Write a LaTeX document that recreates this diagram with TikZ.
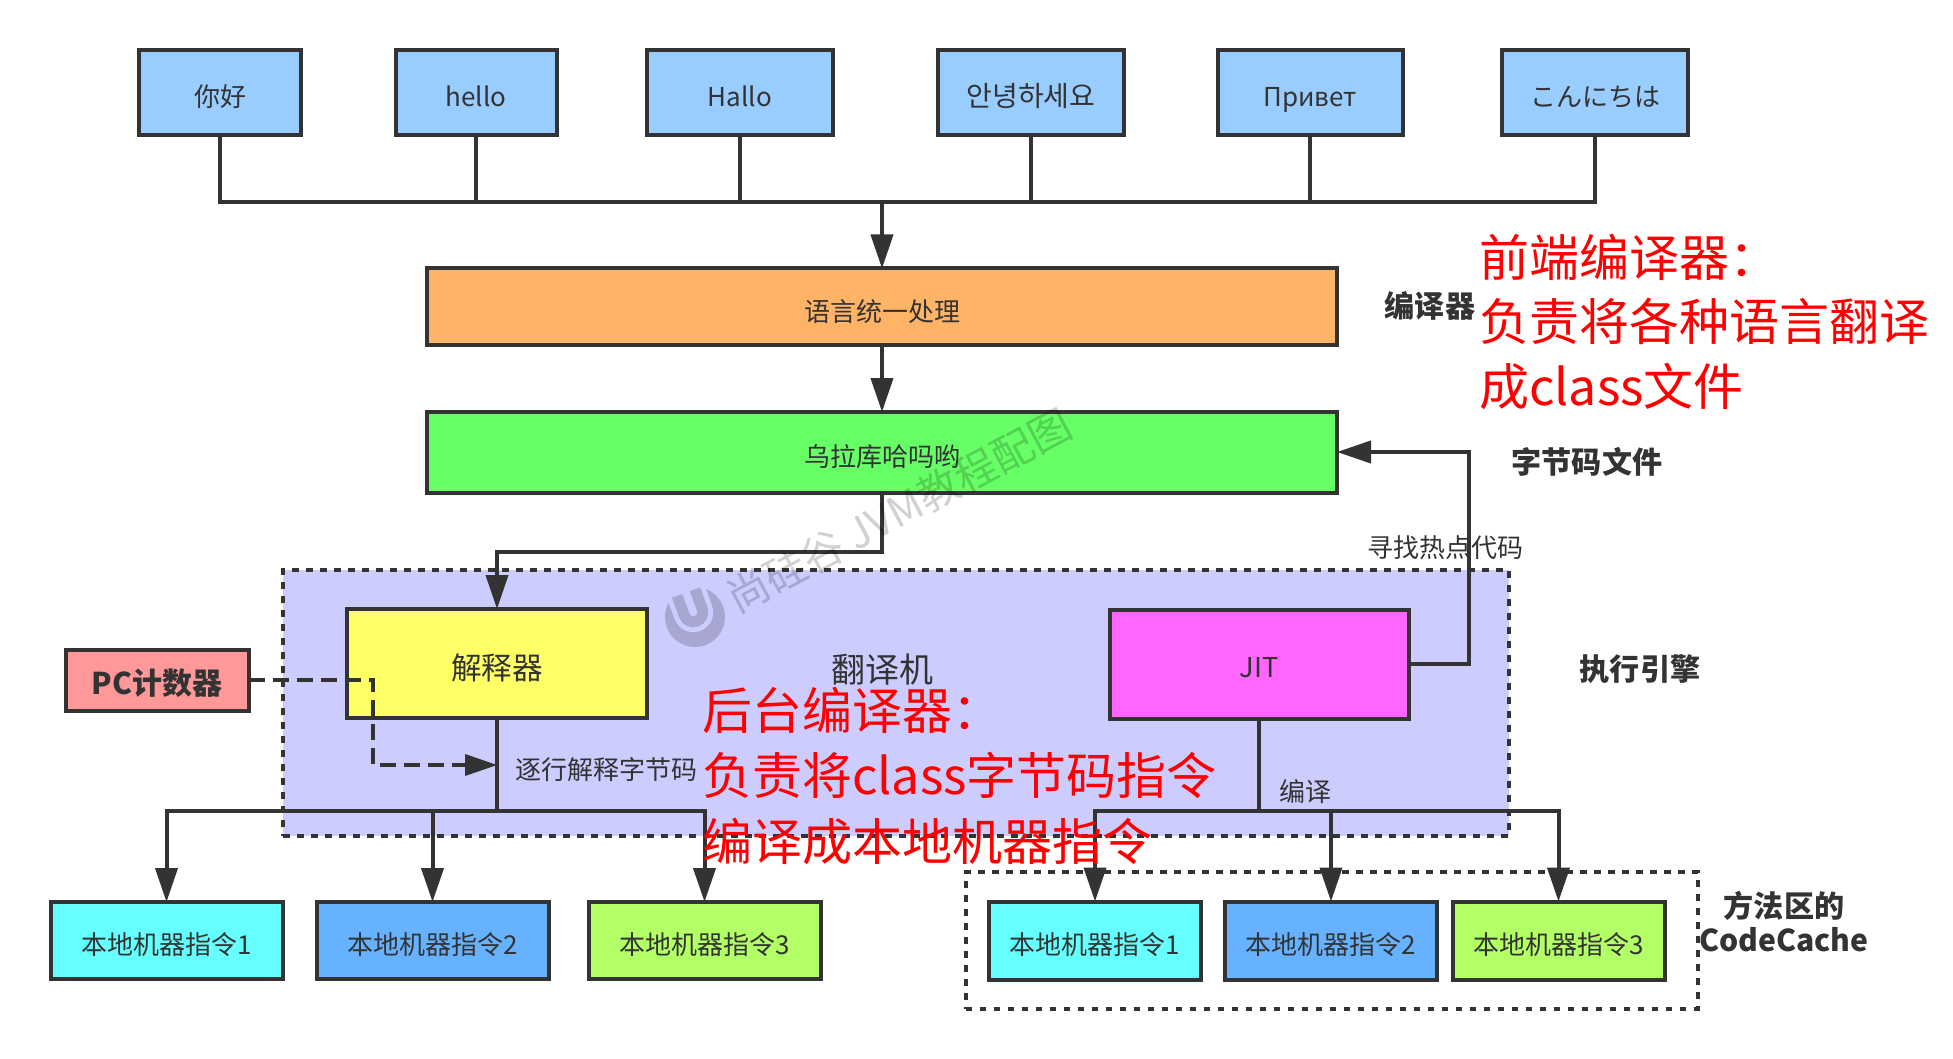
\documentclass[tikz,border=0pt]{standalone}
\usepackage{fontspec}
\setmainfont{Noto Sans CJK SC}
\newfontfamily\krfont{Noto Sans CJK KR}
\usetikzlibrary{arrows.meta}
\definecolor{ink}{HTML}{333333}
\definecolor{cBlue}{HTML}{99CCFF}
\definecolor{cOrange}{HTML}{FFB366}
\definecolor{cGreen}{HTML}{66FF66}
\definecolor{cLav}{HTML}{CCCCFF}
\definecolor{cYellow}{HTML}{FFFF66}
\definecolor{cMag}{HTML}{FF66FF}
\definecolor{cPink}{HTML}{FF9999}
\definecolor{cCyan}{HTML}{66FFFF}
\definecolor{cBlueB}{HTML}{66B2FF}
\definecolor{cLime}{HTML}{B3FF66}
\tikzset{
  wh/.style 2 args={minimum width=#1*.75pt,minimum height=#2*.75pt},
  boxx/.style={draw=ink,line width=3pt,inner sep=0pt,outer sep=0pt,text=ink,text height=21pt,text depth=0pt,font=\fontsize{19.5}{24}\selectfont},
  lab/.style={text=ink,inner sep=0pt,text height=14pt,text depth=0pt,font=\fontsize{19.5}{24}\selectfont},
  blab/.style={text=ink,inner sep=0pt,align=center,font=\fontsize{22.6}{27.5}\selectfont\bfseries},
  redt/.style={text=red,inner sep=0pt,anchor=west,align=left},
  conn/.style={draw=ink,line width=3pt},
  arr/.style={conn,-{Triangle[length=25.5pt,width=16.5pt]}},
  dash conn/.style={draw=ink,line width=3pt,dash pattern=on 12pt off 6pt},
  dotbox/.style={draw=ink,line width=3pt,dash pattern=on 5pt off 5.5pt},
  wm/.style={text=black,opacity=.18,inner sep=0pt,font=\fontsize{31.4}{36}\selectfont}
}
\begin{document}
\begin{tikzpicture}[x=.75pt,y=-.75pt]
\useasboundingbox (0,0) rectangle (1953,1059);
% group areas
\node[dotbox,fill=cLav,wh={1226}{266},inner sep=0pt,outer sep=0pt] (engine) at (896,703) {};
\node[dotbox,wh={732}{137},inner sep=0pt,outer sep=0pt] (cache) at (1331.5,940.5) {};
% top row
\node[boxx,fill=cBlue,wh={162}{85}] (a1) at (220,93) {你好};
\node[boxx,fill=cBlue,wh={161}{85}] (a2) at (476,93) {hello};
\node[boxx,fill=cBlue,wh={186}{85}] (a3) at (740,93) {Hallo};
\node[boxx,fill=cBlue,wh={186}{85}] (a4) at (1031,93) {\fontsize{21}{24}\selectfont\krfont 안녕하세요};
\node[boxx,fill=cBlue,wh={185}{85}] (a5) at (1310,93) {Привет};
\node[boxx,fill=cBlue,wh={186}{85}] (a6) at (1595,93) {こんにちは};
% middle
\node[boxx,fill=cOrange,wh={910}{77}] (lang) at (882,307) {语言统一处理};
\node[boxx,fill=cGreen,wh={910}{81}] (code) at (882,452.5) {乌拉库哈吗哟};
\node[boxx,fill=cYellow,wh={300}{109},font=\fontsize{23}{28}\selectfont,text height=23.4pt] (interp) at (497,663.5) {解释器};
\node[boxx,fill=cMag,wh={299}{109},font=\fontsize{20.5}{25}\selectfont,text height=19.6pt] (jit) at (1259,664.5) {JIT};
\node[boxx,fill=cPink,wh={183}{61},font=\fontsize{22.5}{27}\selectfont\bfseries,text height=21.4pt] (pc) at (157,680) {PC计数器};
% lower row
\node[boxx,fill=cCyan,wh={232}{77}] (l1) at (166.5,940.5) {本地机器指令1};
\node[boxx,fill=cBlueB,wh={232}{77}] (l2) at (432.5,940.5) {本地机器指令2};
\node[boxx,fill=cLime,wh={232}{77}] (l3) at (704.5,940.5) {本地机器指令3};
\node[boxx,fill=cCyan,wh={212}{78}] (r1) at (1095,940.5) {本地机器指令1};
\node[boxx,fill=cBlueB,wh={212}{78}] (r2) at (1331,940.5) {本地机器指令2};
\node[boxx,fill=cLime,wh={212}{78}] (r3) at (1558.5,940.5) {本地机器指令3};
% coordinates
\coordinate (topbus) at (882,202);
\coordinate (turn) at (497,552);
\coordinate (lbus) at (497,811);
\coordinate (rbus) at (1259,811);
\coordinate (hot) at (1469,452);
\coordinate (pcbend) at (373,680);
\coordinate (pcend) at (497,765);
% connectors
\draw[conn] (a1.south) |- (topbus);
\draw[conn] (a2.south) |- (topbus);
\draw[conn] (a3.south) |- (topbus);
\draw[conn] (a6.south) |- (topbus);
\draw[conn] (a4.south) |- (topbus);
\draw[conn] (a5.south) |- (topbus);
\draw[arr] (topbus) -- (lang.north);
\draw[arr] (lang.south) -- (code.north);
\draw[arr] (code.south) |- (turn) -- (interp.north);
\draw[conn] (interp.south) -- (lbus);
\draw[arr] (lbus) -| (l1.north);
\draw[arr] (lbus) -| (l2.north);
\draw[arr] (lbus) -| (l3.north);
\draw[conn] (jit.south) -- (rbus);
\draw[arr] (rbus) -| (r1.north);
\draw[arr] (rbus) -| (r2.north);
\draw[arr] (rbus) -| (r3.north);
\draw[arr] (jit.east |- 0,664) -| (hot) -- (code.east |- hot);
\draw[dash conn] (pc.east) -- (pcbend) |- (pcend);
\fill[ink] (pcend) -- ++(-32,-11) -- ++(0,22) -- cycle;
% labels
\node[lab] (t1) at (606,770) {逐行解释字节码};
\node[lab,font=\fontsize{25.5}{30}\selectfont,text height=18pt] (t2) at (882,670) {翻译机};
\node[lab] (t3) at (1445,548) {寻找热点代码};
\node[lab] (t4) at (1305,792) {编译};
\node[blab] (b1) at (1430,306) {编译器};
\node[blab] (b2) at (1587,462) {字节码文件};
\node[blab] (b3) at (1640,669) {执行引擎};
\node[blab] (b4) at (1784,921.5) {方法区的\\[-2pt]CodeCache};
% watermark
\node[wm,rotate=28] (wmk) at (899,511) {尚硅谷 JVM教程配图};
\begin{scope}[shift={(695,617)},x=.75pt,y=.75pt,rotate=20]
\fill[black,opacity=.18] (-20,22.4) -- (-20,5) arc[start angle=180,end angle=360,radius=20] -- (20,22.4) arc[start angle=48.2,end angle=-228.2,radius=30] -- cycle;
\draw[black,opacity=.18,line width=8.25pt] (-9.5,26) -- (-9.5,5) arc[start angle=180,end angle=360,radius=9.5] -- (9.5,26);
\end{scope}
% red notes
\node[redt,font=\fontsize{37.5}{48.4}\selectfont] (n1) at (1479,322) {前端编译器：\\负责将各种语言翻译\\成class文件};
\node[redt,font=\fontsize{37.5}{49}\selectfont] (n2) at (702,776) {后台编译器：\\负责将class字节码指令\\编译成本地机器指令};
\end{tikzpicture}
\end{document}
